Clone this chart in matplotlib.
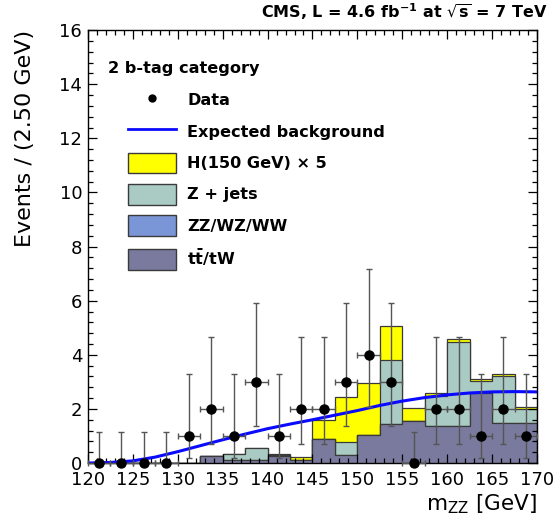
import matplotlib
matplotlib.use("Agg")
import matplotlib.pyplot as plt
from matplotlib.patches import Patch
from matplotlib.lines import Line2D
from matplotlib.ticker import MultipleLocator

plt.rcParams['font.family'] = ['DejaVu Sans']
plt.rcParams['mathtext.fontset'] = 'dejavusans'

# m_ZZ bins (GeV)
bin_edges = [120.0, 122.5, 125.0, 127.5, 130.0, 132.5, 135.0, 137.5, 140.0, 142.5,
             145.0, 147.5, 150.0, 152.5, 155.0, 157.5, 160.0, 162.5, 165.0, 167.5, 170.0]
bin_centers = [121.25, 123.75, 126.25, 128.75, 131.25, 133.75, 136.25, 138.75, 141.25, 143.75,
               146.25, 148.75, 151.25, 153.75, 156.25, 158.75, 161.25, 163.75, 166.25, 168.75]

# stacked backgrounds + signal, per bin
ttbar = [0, 0, 0, 0, 0, 0.26, 0.12, 0.10, 0.25, 0.13,
         0.88, 0.30, 1.03, 1.43, 1.56, 1.38, 1.38, 2.58, 1.47, 1.47]
diboson = [0] * 20
zjets = [0, 0, 0, 0, 0, 0, 0.20, 0.47, 0.05, 0,
         0.02, 0.49, 0, 2.38, 0, 1.10, 3.10, 0.45, 1.74, 0.53]
higgs_x5 = [0, 0, 0, 0, 0, 0, 0, 0, 0.02, 0.10,
            0.70, 1.64, 1.94, 1.25, 0.46, 0.10, 0.10, 0.06, 0.09, 0.08]

# data with asymmetric poisson errors
data = [0, 0, 0, 0, 1, 2, 1, 3, 1, 2, 2, 3, 4, 3, 0, 2, 2, 1, 2, 1]
err_lo = [0, 0, 0, 0, 0.83, 1.29, 0.83, 1.63, 0.83, 1.29,
          1.29, 1.63, 1.91, 1.63, 0, 1.29, 1.29, 0.83, 1.29, 0.83]
err_hi = [1.15, 1.15, 1.15, 1.15, 2.30, 2.64, 2.30, 2.92, 2.30, 2.64,
          2.64, 2.92, 3.16, 2.92, 1.15, 2.64, 2.64, 2.30, 2.64, 2.30]

# expected background curve
bkg_x = [120.0, 122.5, 125.0, 127.5, 130.0, 132.5, 135.0, 137.5, 140.0, 142.5, 145.0,
         147.5, 150.0, 152.5, 155.0, 157.5, 160.0, 162.5, 165.0, 167.5, 170.0]
bkg_y = [0.0, 0.02, 0.08, 0.22, 0.42, 0.64, 0.86, 1.07, 1.27, 1.44, 1.60,
         1.77, 1.94, 2.13, 2.29, 2.42, 2.52, 2.59, 2.63, 2.64, 2.63]

c_tt = '#7a7a9e'
c_vv = '#7b96d6'
c_zj = '#a9cbc3'
c_h = '#ffff00'
edge = '#3a3a3a'

fig = plt.figure(figsize=(5.59, 5.28), dpi=100)
ax = fig.add_axes([0.157, 0.123, 0.804, 0.820])

# ROOT-style stack: cumulative histograms drawn from the top down
layers = [(ttbar, c_tt), (diboson, c_vv), (zjets, c_zj), (higgs_x5, c_h)]
cum = []
running = [0.0] * 20
for vals, col in layers:
    running = [a + b for a, b in zip(running, vals)]
    cum.append((list(running), col))
for vals, col in reversed(cum):
    ax.stairs(vals, bin_edges, baseline=0, fill=True, facecolor=col,
              edgecolor=edge, linewidth=0.9)

ax.plot(bkg_x, bkg_y, color='#0a0aff', linewidth=2.2, zorder=4)

xerr = [1.25] * 20
ax.errorbar(bin_centers, data, yerr=[err_lo, err_hi], xerr=xerr, fmt='o',
            color='black', markersize=6.5, ecolor='#555555', elinewidth=1.0,
            capsize=2.5, capthick=1.0, zorder=5, clip_on=False)

ax.set_xlim(120, 170)
ax.set_ylim(0, 16)
ax.xaxis.set_major_locator(MultipleLocator(5))
ax.xaxis.set_minor_locator(MultipleLocator(1))
ax.yaxis.set_major_locator(MultipleLocator(2))
ax.yaxis.set_minor_locator(MultipleLocator(0.4))
ax.tick_params(which='both', direction='in', top=True, right=True, labelsize=13)
ax.tick_params(which='major', length=6.5, width=0.9)
ax.tick_params(which='minor', length=3.5, width=0.9)
ax.tick_params(axis='x', pad=6)
ax.tick_params(axis='y', pad=4)
for sp in ax.spines.values():
    sp.set_linewidth(1.0)

ax.set_ylabel('Events / (2.50 GeV)', fontsize=16, loc='top')
ax.yaxis.set_label_coords(-0.118, 1.0)
ax.set_xlabel(r'm$_{\rm ZZ}$ [GeV]', fontsize=15.5, loc='right')
ax.xaxis.set_label_coords(1.0, -0.068)

fig.text(0.979, 0.977, r'CMS, L = 4.6 fb$^{\mathbf{-1}}$ at $\mathbf{\sqrt{s}}$ = 7 TeV',
         ha='right', va='center', fontsize=11.5, fontweight='bold')

ax.text(0.045, 0.912, '2 b-tag category', transform=ax.transAxes,
        fontsize=11.6, fontweight='bold', ha='left', va='center')

handles = [
    Line2D([], [], marker='o', color='black', linestyle='none', markersize=5),
    Line2D([], [], color='#0a0aff', linewidth=2),
    Patch(facecolor=c_h, edgecolor=edge),
    Patch(facecolor=c_zj, edgecolor=edge),
    Patch(facecolor=c_vv, edgecolor=edge),
    Patch(facecolor=c_tt, edgecolor=edge),
]
labels = ['Data', 'Expected background', 'H(150 GeV) × 5', 'Z + jets',
          'ZZ/WZ/WW', r't$\mathbf{\bar{t}}$/tW']
leg = ax.legend(handles, labels, loc='upper left', bbox_to_anchor=(0.089, 0.862),
                frameon=False, borderpad=0, borderaxespad=0,
                prop={'size': 11.6, 'weight': 'bold'},
                handlelength=3.0, handleheight=1.6, labelspacing=0.66,
                handletextpad=0.7)

fig.savefig('out.png', dpi=100)
